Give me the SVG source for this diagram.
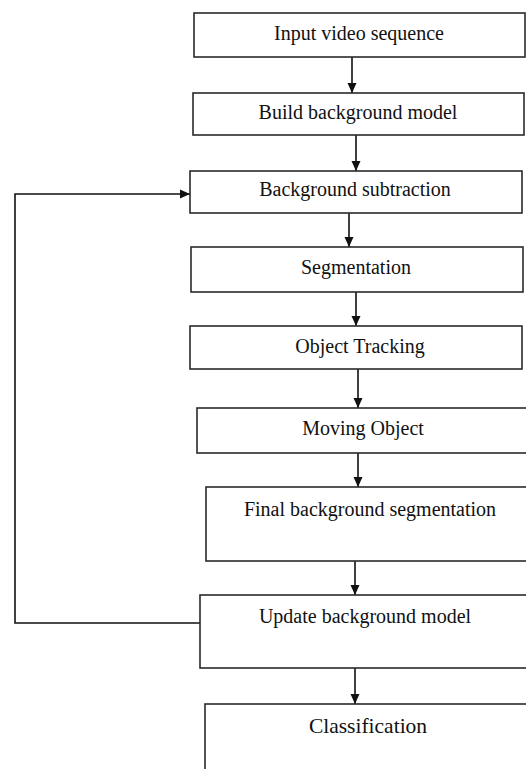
<svg xmlns="http://www.w3.org/2000/svg" width="526" height="769" viewBox="0 0 526 769">
<style>
.box{fill:#fff;stroke:#2a2a2a;stroke-width:1.6}
.lbl{font-family:"Liberation Serif","Times New Roman",serif;font-size:20px;fill:#111;text-anchor:middle}
.ln{fill:none;stroke:#111;stroke-width:1.6}
</style>
<defs>
<marker id="ah" markerUnits="userSpaceOnUse" markerWidth="10" markerHeight="10" viewBox="0 0 10 10" refX="10" refY="5" orient="auto">
<path d="M0,0.5 L10,5 L0,9.5 Z" fill="#111"/>
</marker>
</defs>
<rect width="526" height="769" fill="#fff"/>
<g id="connectors">
<path class="ln" d="M352,57 V93" marker-end="url(#ah)"/>
<path class="ln" d="M356,135 V171" marker-end="url(#ah)"/>
<path class="ln" d="M349,213 V247" marker-end="url(#ah)"/>
<path class="ln" d="M356,292 V326" marker-end="url(#ah)"/>
<path class="ln" d="M358,369 V408" marker-end="url(#ah)"/>
<path class="ln" d="M358,453 V487" marker-end="url(#ah)"/>
<path class="ln" d="M355,561 V595" marker-end="url(#ah)"/>
<path class="ln" d="M355,668 V704" marker-end="url(#ah)"/>
<path class="ln" d="M200,623 H15 V194 H190" marker-end="url(#ah)"/>
</g>
<g id="n1"><rect class="box" x="194" y="13" width="331" height="44"/><text class="lbl" x="359" y="40">Input video sequence</text></g>
<g id="n2"><rect class="box" x="193" y="93" width="331" height="42"/><text class="lbl" x="358" y="119">Build background model</text></g>
<g id="n3"><rect class="box" x="190" y="171" width="332" height="42"/><text class="lbl" x="355" y="196">Background subtraction</text></g>
<g id="n4"><rect class="box" x="191" y="247" width="332" height="45"/><text class="lbl" x="356" y="274">Segmentation</text></g>
<g id="n5"><rect class="box" x="190" y="326" width="332" height="43"/><text class="lbl" x="360" y="353">Object Tracking</text></g>
<g id="n6"><rect class="box" x="197" y="408" width="340" height="45"/><text class="lbl" x="363" y="435">Moving Object</text></g>
<g id="n7"><rect class="box" x="206" y="487" width="330" height="74"/><text class="lbl" x="370" y="516">Final background segmentation</text></g>
<g id="n8"><rect class="box" x="200" y="595" width="336" height="73"/><text class="lbl" x="365" y="623">Update background model</text></g>
<g id="n9"><rect class="box" x="205" y="704" width="331" height="80"/><text class="lbl" x="368" y="733" style="font-size:21.5px">Classification</text></g>
</svg>
